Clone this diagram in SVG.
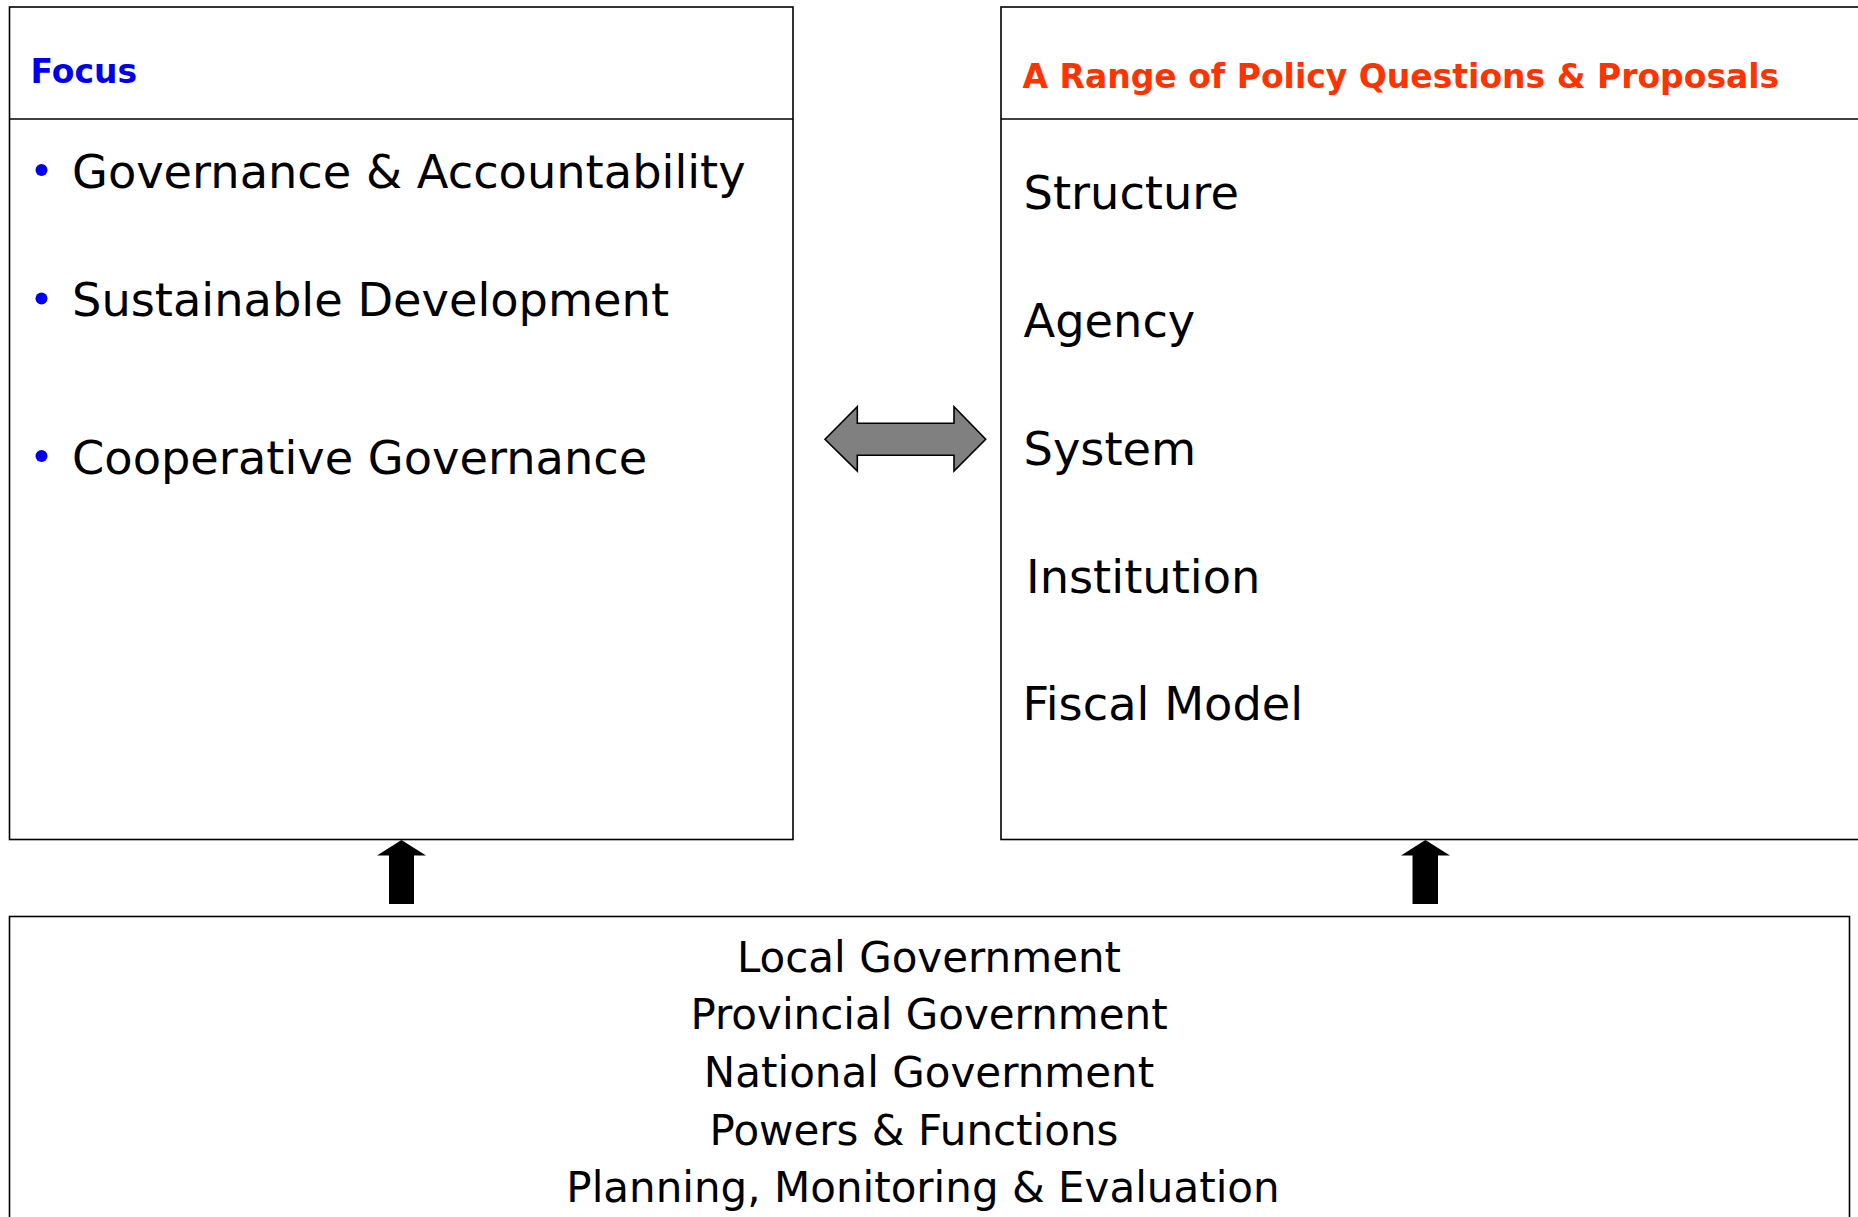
<svg xmlns="http://www.w3.org/2000/svg" width="1858" height="1217" viewBox="0 0 1858 1217">
<style>
.box{fill:#fff;stroke:#000;stroke-width:1.6}
.div{stroke:#000;stroke-width:1.6}
.hd{font-family:"DejaVu Sans",Verdana,sans-serif;font-weight:bold;font-size:33px}
.it{font-family:"DejaVu Sans",Verdana,sans-serif;font-size:46.3px;fill:#000}
.bt{font-family:"DejaVu Sans",Verdana,sans-serif;font-size:42px;fill:#000;text-anchor:middle}
.bul{fill:#0000EE}
</style>
<rect width="1858" height="1217" fill="#fff"/>
<g id="focus">
<rect class="box" x="9.5" y="7" width="783.5" height="832.5"/>
<line class="div" x1="9.5" y1="119" x2="793" y2="119"/>
<text class="hd" x="30.5" y="82.5" fill="#0000EE">Focus</text>
<circle class="bul" cx="41.5" cy="170" r="6"/>
<text class="it" x="72" y="188">Governance &amp; Accountability</text>
<circle class="bul" cx="41.5" cy="298.5" r="6"/>
<text class="it" x="72" y="316">Sustainable Development</text>
<circle class="bul" cx="41.5" cy="456" r="6"/>
<text class="it" x="72" y="474">Cooperative Governance</text>
</g>
<g id="policy">
<rect class="box" x="1001" y="7" width="880" height="832.5"/>
<line class="div" x1="1001" y1="119" x2="1858" y2="119"/>
<text class="hd" x="1022.5" y="88" fill="#FF3300">A Range of Policy Questions &amp; Proposals</text>
<text class="it" x="1023.5" y="208.5">Structure</text>
<text class="it" x="1023.5" y="337">Agency</text>
<text class="it" x="1023.5" y="465">System</text>
<text class="it" x="1026" y="593">Institution</text>
<text class="it" x="1022.5" y="720">Fiscal Model</text>
</g>
<g id="government">
<rect class="box" x="9.5" y="916.5" width="1840" height="330"/>
<text class="bt" x="929" y="972">Local Government</text>
<text class="bt" x="929" y="1029">Provincial Government</text>
<text class="bt" x="929" y="1087">National Government</text>
<text class="bt" x="914" y="1145">Powers &amp; Functions</text>
<text class="bt" x="923" y="1202">Planning, Monitoring &amp; Evaluation</text>
</g>
<g id="connectors">
<polygon points="825,439.3 857.3,406.7 857.3,423.3 954,423.3 954,406.7 985.7,439.3 954,471 954,455.3 857.3,455.3 857.3,471" fill="#808080" stroke="#000" stroke-width="1.6" stroke-linejoin="miter"/>
<polygon points="401.5,840 426,855.5 414,855.5 414,904 389,904 389,855.5 377,855.5" fill="#000"/>
<polygon points="1425.4,840 1450,855.5 1438,855.5 1438,904 1412.5,904 1412.5,855.5 1401,855.5" fill="#000"/>
</g>
</svg>
